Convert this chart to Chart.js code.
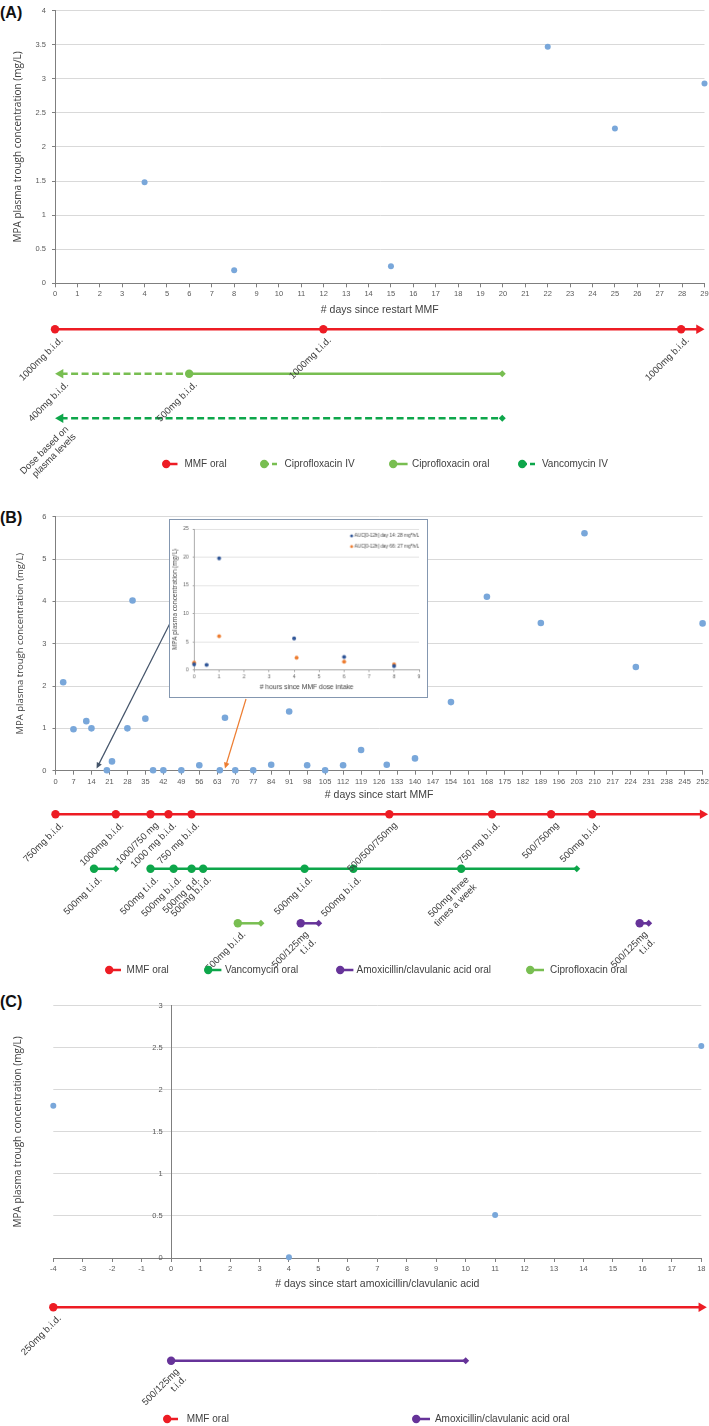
<!DOCTYPE html>
<html>
<head>
<meta charset="utf-8">
<script src="https://cdn.jsdelivr.net/npm/chart.js@4.4.0/dist/chart.umd.min.js"></script>
<style>
  body { margin: 0; background: #fff; width: 709px; height: 1426px; position: relative; overflow: hidden;
         font-family: 'Liberation Sans', Arial, sans-serif; }
  canvas { position: absolute; left: 0; }
  .panel { position: absolute; left: 0; font: bold 16px 'Liberation Sans', sans-serif; color: #111; line-height: 16px; }
  .lg { position: absolute; font-size: 10px; color: #404040; white-space: nowrap; line-height: 12px; }
  svg.ic { position: absolute; overflow: visible; }
  #inset { border: 1.5px solid #8497B0; background: #fff; left: 168.5px; top: 518.5px; }
</style>
</head>
<body>
<div class="panel" style="top:5px">(A)</div>
<div class="panel" style="top:510px">(B)</div>
<div class="panel" style="top:994px">(C)</div>

<canvas id="cA" width="709" height="320" style="top:0"></canvas>
<canvas id="tA" width="709" height="165" style="top:320px"></canvas>
<canvas id="cB" width="709" height="310" style="top:495px"></canvas>
<canvas id="tB" width="709" height="180" style="top:805px"></canvas>
<canvas id="cC" width="709" height="304" style="top:990px"></canvas>
<canvas id="tC" width="709" height="132" style="top:1294px"></canvas>
<canvas id="inset" width="259" height="179"></canvas>

<script>
// ---- panel A: MPA trough levels
const daysA = [4, 8, 15, 22, 25, 29];
const mpaA = [1.48, 0.19, 0.25, 3.47, 2.27, 2.93];

// ---- panel B: MPA trough levels
const daysB = [3, 7, 12, 14, 20, 22, 28, 30, 35, 38, 42, 49, 56, 64, 66, 70, 77, 84, 91, 98,
               105, 112, 119, 129, 140, 154, 168, 189, 206, 226, 252];
const mpaB = [2.09, 0.98, 1.17, 1.0, 0.01, 0.22, 1.0, 4.02, 1.23, 0.01, 0.01, 0.01, 0.13, 0.01, 1.25, 0.01, 0.01, 0.14, 1.4, 0.13,
              0.01, 0.13, 0.49, 0.14, 0.29, 1.62, 4.11, 3.49, 5.61, 2.45, 3.48];

// ---- panel B inset: AUC profiles
const hoursDay14 = [0, 0.5, 1, 4, 6, 8];
const concDay14 = [1.0, 0.9, 19.8, 5.6, 2.3, 0.7];
const hoursDay66 = [0, 1, 4.1, 6, 8];
const concDay66 = [1.3, 6.0, 2.2, 1.5, 1.0];
const insetLabels = ['AUC[0-12h] day 14: 28 mg*h/L', 'AUC[0-12h] day 66: 27 mg*h/L'];
const pointerDays = [16, 66];

// ---- panel C: MPA trough levels
const daysC = [-4, 4, 11, 18];
const mpaC = [1.81, 0.01, 0.51, 2.52];

// ---- dosing timelines (days, dose labels)
const mmfA = [0, 12, 28, 28.8];
const mmfA_lbl = ['1000mg b.i.d.', '1000mg t.i.d.', '1000mg b.i.d.', null];
const ciproIvA = [0.25, 6];
const ciproIvA_lbl = ['400mg b.i.d.', null];
const ciproOralA = [6, 20];
const ciproOralA_lbl = ['500mg b.i.d.', null];
const vancoIvA = [0.25, 20];
const vancoIvA_lbl = ['Dose based on\nplasma levels', null];

const mmfB = [0, 23.5, 37, 44, 53, 130, 170, 193, 209, 252];
const mmfB_lbl = ['750mg b.i.d.', '1000mg b.i.d.', '1000/750 mg', '1000 mg b.i.d.', '750 mg b.i.d.',
                  '500/500/750mg', '750 mg b.i.d.', '500/750mg', '500mg b.i.d.', null];
const vanco1B = [15, 23.5];
const vanco1B_lbl = ['500mg t.i.d.', null];
const vanco2B = [37, 46, 53, 57.5, 97, 116, 158, 203];
const vanco2B_lbl = ['500mg t.i.d.', '500mg b.i.d.', '500mg q.d.', '500mg b.i.d.', '500mg t.i.d.',
                     '500mg b.i.d.', '500mg three\ntimes a week', null];
const ciproB = [71, 80];
const ciproB_lbl = ['500mg b.i.d.', null];
const amox1B = [95.5, 102.5];
const amox1B_lbl = ['500/125mg\nt.i.d.', null];
const amox2B = [227.5, 231];
const amox2B_lbl = ['500/125mg\nt.i.d.', null];

const mmfC = [-4, 18];
const mmfC_lbl = ['250mg b.i.d.', null];
const amoxC = [0, 10];
const amoxC_lbl = ['500/125mg\nt.i.d.', null];

const FONT = "'Liberation Sans', Arial, sans-serif";
const BLUE = '#79A7DA', RED = '#ED1C24', LGREEN = '#78BE51', DGREEN = '#0DA64A', PURPLE = '#663399';
const TICK = '#595959', TITLE = '#404040', AXIS = '#7F7F7F', GRID = '#D9D9D9';
const YTITLE = 'MPA plasma trough concentration (mg/L)';

Chart.defaults.font.family = FONT;
Chart.defaults.color = TICK;

function pts(xs, ys) { return xs.map((x, i) => ({x: x, y: ys[i]})); }

function scatterChart(id, xs, ys, o) {
  const yScale = {
    min: 0, max: o.ymax,
    ticks: {stepSize: o.ystep, padding: 6, color: TICK, font: {size: 7.5}, callback: v => String(v)},
    grid: {color: ctx => ctx.tick && ctx.tick.value === 0 ? 'rgba(0,0,0,0)' : GRID, tickColor: AXIS, tickLength: 3},
    border: {color: AXIS},
    title: {display: true, text: YTITLE, color: TITLE, font: {family: "'Open Sans', sans-serif", size: o.ytSize}, padding: {top: o.ytPad, bottom: 0}},
    afterFit: s => { s.width = o.left; }
  };
  const scales = {
    x: {
      type: 'linear', min: o.xmin, max: o.xmax,
      ticks: {stepSize: o.xstep, autoSkip: false, maxRotation: 0, padding: 2.5, color: TICK, font: {size: 7.5}},
      grid: {drawOnChartArea: false, tickLength: 4, color: AXIS},
      border: {color: AXIS},
      title: {display: true, text: o.xtitle, color: TITLE, font: {size: 10.5}, padding: {top: 0, bottom: 3.5}},
      afterFit: s => { s.height = o.xh; s.paddingLeft = 0; s.paddingRight = 0; }
    },
    y: yScale
  };
  if (o.yAtZero) {
    // y axis crosses at x = 0; a blank left axis carries the title
    yScale.position = {x: 0};
    yScale.ticks.callback = v => String(v) + '    ';
    yScale.grid.drawTicks = false;
    scales.yt = {
      position: 'left', min: 0, max: 1,
      ticks: {display: false}, grid: {display: false}, border: {display: false},
      title: yScale.title,
      afterFit: s => { s.width = o.left; }
    };
    yScale.title = {display: false};
    delete yScale.afterFit;
  }
  return new Chart(document.getElementById(id), {
    type: 'scatter',
    data: {datasets: [{data: pts(xs, ys), xAxisID: 'x', yAxisID: 'y', backgroundColor: BLUE, borderColor: BLUE,
                       pointRadius: o.r, pointBorderWidth: 0, clip: false}]},
    options: {
      responsive: false, animation: false, events: [],
      layout: {padding: {left: 0, right: o.right, top: o.top, bottom: 0}},
      plugins: {legend: {display: false}, tooltip: {enabled: false}},
      scales: scales
    },
    plugins: o.plugins || []
  });
}

// dose labels under the timeline points
const doseLabels = {
  id: 'doseLabels',
  afterDatasetsDraw(chart) {
    const ctx = chart.ctx;
    chart.data.datasets.forEach((ds, di) => {
      if (!ds.doseLabels) return;
      chart.getDatasetMeta(di).data.forEach((pt, i) => {
        const t = ds.doseLabels[i];
        if (!t) return;
        ctx.save();
        ctx.translate(pt.x + 6.5, pt.y + 9.5);
        ctx.rotate(-45 * Math.PI / 180);
        ctx.font = '9.5px ' + FONT;
        ctx.fillStyle = TITLE;
        ctx.textAlign = 'right';
        ctx.textBaseline = 'middle';
        t.split('\n').forEach((line, k) => ctx.fillText(line, 0, k * 10.5));
        ctx.restore();
      });
    });
  }
};

function seg(row, days, labels, color, start, end, dashed) {
  const n = days.length;
  const kind = days.map((d, i) => i === 0 ? start : (i === n - 1 ? end : 'circle'));
  return {
    data: days.map(d => ({x: d, y: row})),
    doseLabels: labels,
    borderColor: color, backgroundColor: color, borderWidth: 2.5,
    borderDash: dashed ? [7, 3.5] : [],
    pointStyle: kind.map(k => k === 'diamond' ? 'rectRot' : (k === 'arrowL' || k === 'arrowR') ? 'triangle' : 'circle'),
    pointRotation: kind.map(k => k === 'arrowL' ? -90 : k === 'arrowR' ? 90 : 0),
    pointRadius: kind.map(k => k === 'circle' ? 4.2 : k === 'diamond' ? 3.5 : k === 'none' ? 0 : 5.5),
    pointBorderWidth: 0, tension: 0, fill: false, clip: false
  };
}

function timelineChart(id, datasets, o) {
  return new Chart(document.getElementById(id), {
    type: 'line',
    data: {datasets: datasets},
    options: {
      responsive: false, animation: false, events: [],
      layout: {padding: {left: o.left, right: o.right, top: o.top, bottom: o.bottom}},
      plugins: {legend: {display: false}, tooltip: {enabled: false}},
      scales: {
        x: {type: 'linear', display: false, min: o.xmin, max: o.xmax},
        y: {type: 'linear', display: false, min: 0, max: o.rows, reverse: true}
      }
    },
    plugins: [doseLabels]
  });
}

// arrows from the inset to the AUC days
const insetPointers = {
  id: 'insetPointers',
  afterDatasetsDraw(chart) {
    const ctx = chart.ctx, sx = chart.scales.x, sy = chart.scales.y;
    const starts = [[170, 623.3 - 495], [246, 699 - 495]];
    const colors = ['#44546A', '#ED7D31'];
    pointerDays.forEach((d, i) => {
      const x0 = starts[i][0], y0 = starts[i][1];
      const x1 = sx.getPixelForValue(d), y1 = sy.getPixelForValue(0.05);
      const a = Math.atan2(y1 - y0, x1 - x0);
      ctx.save();
      ctx.strokeStyle = colors[i];
      ctx.fillStyle = colors[i];
      ctx.lineWidth = 1.2;
      ctx.beginPath();
      ctx.moveTo(x0, y0);
      ctx.lineTo(x1 - 5 * Math.cos(a), y1 - 5 * Math.sin(a));
      ctx.stroke();
      ctx.beginPath();
      ctx.moveTo(x1, y1);
      ctx.lineTo(x1 - 6 * Math.cos(a) + 2.8 * Math.sin(a), y1 - 6 * Math.sin(a) - 2.8 * Math.cos(a));
      ctx.lineTo(x1 - 6 * Math.cos(a) - 2.8 * Math.sin(a), y1 - 6 * Math.sin(a) + 2.8 * Math.cos(a));
      ctx.closePath();
      ctx.fill();
      ctx.restore();
    });
  }
};

// ---- charts
scatterChart('cA', daysA, mpaA, {
  xmin: 0, xmax: 29, xstep: 1, ymax: 4, ystep: 0.5, left: 55, right: 4.5, top: 6, xh: 36.7, r: 3,
  ytSize: 10, ytPad: 12, xtitle: '# days since restart MMF'
});
timelineChart('tA', [
  seg(0, mmfA, mmfA_lbl, RED, 'circle', 'arrowR', false),
  seg(1, ciproIvA, ciproIvA_lbl, LGREEN, 'arrowL', 'none', true),
  seg(1, ciproOralA, ciproOralA_lbl, LGREEN, 'circle', 'diamond', false),
  seg(2, vancoIvA, vancoIvA_lbl, DGREEN, 'arrowL', 'diamond', true)
], {xmin: 0, xmax: 29, rows: 2, left: 55, right: 4.5, top: 9.3, bottom: 66.7});

scatterChart('cB', daysB, mpaB, {
  xmin: 0, xmax: 252, xstep: 7, ymax: 6, ystep: 1, left: 55.5, right: 6.4, top: 21.7, xh: 34.3, r: 3.3,
  ytSize: 9.5, ytPad: 14.5, xtitle: '# days since start MMF', plugins: [insetPointers]
});
timelineChart('tB', [
  seg(0, mmfB, mmfB_lbl, RED, 'circle', 'arrowR', false),
  seg(1, vanco1B, vanco1B_lbl, DGREEN, 'circle', 'diamond', false),
  seg(1, vanco2B, vanco2B_lbl, DGREEN, 'circle', 'diamond', false),
  seg(2, ciproB, ciproB_lbl, LGREEN, 'circle', 'diamond', false),
  seg(2, amox1B, amox1B_lbl, PURPLE, 'circle', 'diamond', false),
  seg(2, amox2B, amox2B_lbl, PURPLE, 'circle', 'diamond', false)
], {xmin: 0, xmax: 252, rows: 2, left: 55.5, right: 6.4, top: 9.3, bottom: 61.7});

scatterChart('cC', daysC, mpaC, {
  xmin: -4, xmax: 18, xstep: 1, ymax: 3, ystep: 0.5, left: 53.3, right: 7.7, top: 15.7, xh: 36, r: 3,
  ytSize: 10, ytPad: 12, xtitle: '# days since start amoxicillin/clavulanic acid', yAtZero: true
});
timelineChart('tC', [
  seg(0, mmfC, mmfC_lbl, RED, 'circle', 'arrowR', false),
  seg(1, amoxC, amoxC_lbl, PURPLE, 'circle', 'diamond', false)
], {xmin: -4, xmax: 18, rows: 1, left: 53.3, right: 7.7, top: 13.3, bottom: 65.3});

// ---- inset chart
const insetLegend = {
  id: 'insetLegend',
  afterDraw(chart) {
    const ctx = chart.ctx, ca = chart.chartArea;
    chart.data.datasets.forEach((ds, i) => {
      const x = ca.right - 68, y = ca.top + 7 + i * 10.7;
      ctx.save();
      ctx.fillStyle = ds.backgroundColor;
      ctx.beginPath();
      ctx.arc(x, y, 1.5, 0, Math.PI * 2);
      ctx.fill();
      ctx.font = '4.8px ' + FONT;
      ctx.fillStyle = TITLE;
      ctx.textBaseline = 'middle';
      ctx.fillText(ds.label, x + 2.8, y);
      ctx.restore();
    });
  }
};
new Chart(document.getElementById('inset'), {
  type: 'scatter',
  data: {datasets: [
    {label: insetLabels[0], data: pts(hoursDay14, concDay14), backgroundColor: '#2F5597', pointRadius: 2, pointBorderWidth: 0, clip: false},
    {label: insetLabels[1], data: pts(hoursDay66, concDay66), backgroundColor: '#ED7D31', pointRadius: 2, pointBorderWidth: 0, clip: false}
  ]},
  options: {
    responsive: false, animation: false, events: [],
    layout: {padding: {left: 0, right: 8, top: 9, bottom: 0}},
    plugins: {legend: {display: false}, tooltip: {enabled: false}},
    scales: {
      x: {
        type: 'linear', min: 0, max: 9,
        ticks: {stepSize: 1, autoSkip: false, maxRotation: 0, padding: 1.5, color: TICK, font: {size: 5}},
        grid: {drawOnChartArea: false, tickLength: 2, color: '#A6A6A6'},
        border: {color: '#A6A6A6'},
        title: {display: true, text: '# hours since MMF dose intake', color: TITLE, font: {size: 6.8}, padding: {top: 0, bottom: 5.8}},
        afterFit: s => { s.height = 27.3; s.paddingLeft = 0; s.paddingRight = 0; }
      },
      y: {
        min: 0, max: 25,
        ticks: {stepSize: 5, padding: 4, color: TICK, font: {size: 5}},
        grid: {color: '#E3E3E3', tickColor: '#A6A6A6', tickLength: 1.5},
        border: {color: '#A6A6A6'},
        title: {display: true, text: 'MPA plasma concentration (mg/L)', color: TITLE, font: {family: "'Open Sans', sans-serif", size: 6.5}, padding: {top: 1.1, bottom: 0}},
        afterFit: s => { s.width = 24.3; }
      }
    }
  },
  plugins: [insetLegend]
});

// ---- legends
function legend(top, items) {
  items.forEach(([text, color, dashed, iconX, iconW, textX]) => {
    const d = document.createElement('div');
    d.className = 'lg';
    d.style.left = textX + 'px';
    d.style.top = (top - 6) + 'px';
    d.textContent = text;
    document.body.appendChild(d);
    const s = document.createElementNS('http://www.w3.org/2000/svg', 'svg');
    s.setAttribute('class', 'ic');
    s.setAttribute('width', iconW);
    s.setAttribute('height', 10);
    s.style.left = iconX + 'px';
    s.style.top = (top - 5) + 'px';
    s.innerHTML = '<line x1="4" y1="5" x2="' + iconW + '" y2="5" stroke="' + color + '" stroke-width="2.5"' +
      (dashed ? ' stroke-dasharray="5,3"' : '') + '/><circle cx="4.2" cy="5" r="4.2" fill="' + color + '"/>';
    document.body.appendChild(s);
  });
}
legend(464, [
  ['MMF oral', RED, false, 162, 15.5, 184.4],
  ['Ciprofloxacin IV', LGREEN, true, 259.6, 19, 284.6],
  ['Ciprofloxacin oral', LGREEN, false, 389, 18.6, 412.1],
  ['Vancomycin IV', DGREEN, true, 518, 19, 541.9]
]);
legend(970.3, [
  ['MMF oral', RED, false, 104.7, 16, 126.6],
  ['Vancomycin oral', DGREEN, false, 203.5, 17.4, 225],
  ['Amoxicillin/clavulanic acid oral', PURPLE, false, 335.6, 17.4, 356.6],
  ['Ciprofloxacin oral', LGREEN, false, 526, 18, 550]
]);
legend(1419.3, [
  ['MMF oral', RED, false, 162.6, 15, 186.7],
  ['Amoxicillin/clavulanic acid oral', PURPLE, false, 412, 18, 434.9]
]);
</script>
</body>
</html>
